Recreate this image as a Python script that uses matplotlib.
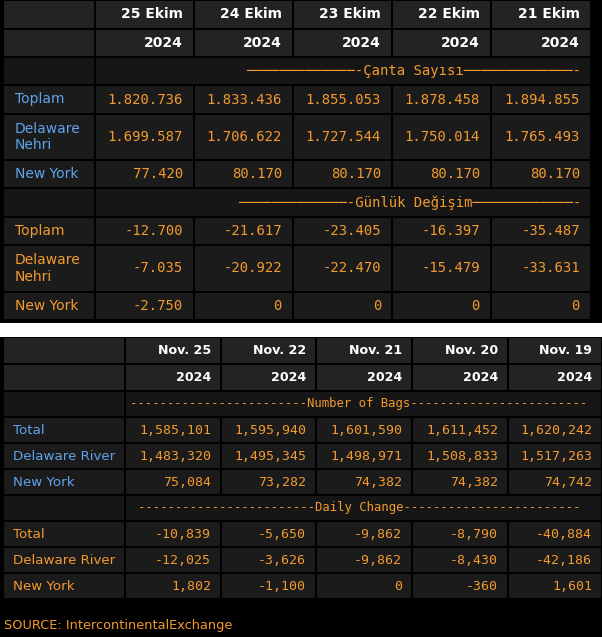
import matplotlib
matplotlib.use("Agg")
import matplotlib.pyplot as plt
from matplotlib.patches import Rectangle

# ---------------- data ----------------
top_dates = ["25 Ekim", "24 Ekim", "23 Ekim", "22 Ekim", "21 Ekim"]
top_years = ["2024", "2024", "2024", "2024", "2024"]
top_labels = ["Toplam", "Delaware\nNehri", "New York"]
top_section1 = "Çanta Sayısı"
top_section2 = "Günlük Değişim"
top_bags_total = [1820736, 1833436, 1855053, 1878458, 1894855]
top_bags_delaware = [1699587, 1706622, 1727544, 1750014, 1765493]
top_bags_ny = [77420, 80170, 80170, 80170, 80170]
top_chg_total = [-12700, -21617, -23405, -16397, -35487]
top_chg_delaware = [-7035, -20922, -22470, -15479, -33631]
top_chg_ny = [-2750, 0, 0, 0, 0]

bot_dates = ["Nov. 25", "Nov. 22", "Nov. 21", "Nov. 20", "Nov. 19"]
bot_years = ["2024", "2024", "2024", "2024", "2024"]
bot_labels = ["Total", "Delaware River", "New York"]
bot_section1 = "Number of Bags"
bot_section2 = "Daily Change"
bot_bags_total = [1585101, 1595940, 1601590, 1611452, 1620242]
bot_bags_delaware = [1483320, 1495345, 1498971, 1508833, 1517263]
bot_bags_ny = [75084, 73282, 74382, 74382, 74742]
bot_chg_total = [-10839, -5650, -9862, -8790, -40884]
bot_chg_delaware = [-12025, -3626, -9862, -8430, -42186]
bot_chg_ny = [1802, -1100, 0, -360, 1601]

source_text = "SOURCE: IntercontinentalExchange"

# ---------------- style ----------------
W, H = 602, 637
BG = "#000000"
HDR = "#232323"
CELL = "#1b1b1b"
SEC = "#161616"
WHITE = "#ffffff"
BLUE = "#5ea4ec"
ORANGE = "#f29a2e"

fig = plt.figure(figsize=(W / 100, H / 100), dpi=100, facecolor=BG)
ax = fig.add_axes([0, 0, 1, 1])
ax.set_xlim(0, W)
ax.set_ylim(H, 0)
ax.axis("off")
ax.set_facecolor(BG)

# white gap between the two screenshots
ax.add_patch(Rectangle((0, 323), W, 14, facecolor="white", edgecolor="none"))


def fmt(v, sep):
    s = f"{abs(v):,}".replace(",", sep)
    return ("-" if v < 0 else "") + s


def draw_table(xs, ys, dates, years, labels, bags, chg, sep,
               num_fs, hdr_fs, lab_fs, sec_strings, sec_x, sec_ha, sec_fs,
               lab_x, pad):
    # rows: 0 hdr1, 1 hdr2, 2 sec1, 3-5 data, 6 sec2, 7-9 data
    for r in range(len(ys) - 1):
        y0, y1 = ys[r], ys[r + 1]
        for c in range(len(xs) - 1):
            x0, x1 = xs[c], xs[c + 1]
            if r in (0, 1):
                col = HDR
            elif r in (2, 6):
                col = SEC
            else:
                col = CELL
            if r in (2, 6) and c > 0:
                continue
            ax.add_patch(Rectangle((x0 + 1, y0 + 1), x1 - x0 - 2, y1 - y0 - 2,
                                   facecolor=col, edgecolor="none"))
        if r in (2, 6):
            ax.add_patch(Rectangle((xs[1] + 1, y0 + 1), xs[-1] - xs[1] - 2,
                                   y1 - y0 - 2, facecolor=SEC, edgecolor="none"))

    def yc(r):
        return (ys[r] + ys[r + 1]) / 2

    for c in range(5):
        xr = xs[c + 2] - pad
        ax.text(xr, yc(0), dates[c], color=WHITE, fontsize=hdr_fs,
                fontweight="bold", ha="right", va="center", family="DejaVu Sans")
        ax.text(xr, yc(1), years[c], color=WHITE, fontsize=hdr_fs,
                fontweight="bold", ha="right", va="center", family="DejaVu Sans")

    ax.text(sec_x, yc(2), sec_strings[0], color=ORANGE, fontsize=sec_fs,
            ha=sec_ha, va="center", family="DejaVu Sans Mono")
    ax.text(sec_x, yc(6), sec_strings[1], color=ORANGE, fontsize=sec_fs,
            ha=sec_ha, va="center", family="DejaVu Sans Mono")

    for i, lab in enumerate(labels):
        ax.text(lab_x, yc(3 + i), lab, color=BLUE, fontsize=lab_fs,
                ha="left", va="center", family="DejaVu Sans", linespacing=1.25)
        ax.text(lab_x, yc(7 + i), lab, color=ORANGE, fontsize=lab_fs,
                ha="left", va="center", family="DejaVu Sans", linespacing=1.25)
        for c in range(5):
            xr = xs[c + 2] - pad
            ax.text(xr, yc(3 + i), fmt(bags[i][c], sep), color=ORANGE,
                    fontsize=num_fs, ha="right", va="center",
                    family="DejaVu Sans Mono")
            ax.text(xr, yc(7 + i), fmt(chg[i][c], sep), color=ORANGE,
                    fontsize=num_fs, ha="right", va="center",
                    family="DejaVu Sans Mono")


# top table (Turkish)
top_xs = [3, 95, 194, 293, 392, 491, 591]
top_ys = [0, 29, 57, 85, 114, 160, 188, 217, 245, 292, 320]
t_sec = ["─" * 13 + "-" + top_section1 + "─" * 13 + "-",
         "─" * 13 + "-" + top_section2 + "─" * 12 + "-"]
draw_table(top_xs, top_ys, top_dates, top_years, top_labels,
           [top_bags_total, top_bags_delaware, top_bags_ny],
           [top_chg_total, top_chg_delaware, top_chg_ny],
           ".", 10, 10, 10, t_sec, 581, "right", 10, 15, 11)

# bottom table (English)
bot_xs = [3, 125, 221, 316, 412, 508, 602]
bot_ys = [337, 364, 391, 417, 443, 469, 495, 521, 547, 573, 599]
b_sec = ["-" * 24 + bot_section1 + "-" * 24,
         "-" * 24 + bot_section2 + "-" * 24]
draw_table(bot_xs, bot_ys, bot_dates, bot_years, bot_labels,
           [bot_bags_total, bot_bags_delaware, bot_bags_ny],
           [bot_chg_total, bot_chg_delaware, bot_chg_ny],
           ",", 9.5, 9.1, 9.6, b_sec, 359, "center", 8.8, 13, 10)

ax.text(4, 625, source_text, color=ORANGE, fontsize=9.3, ha="left",
        va="center", family="DejaVu Sans")

fig.savefig("out.png", dpi=100, facecolor=BG)
